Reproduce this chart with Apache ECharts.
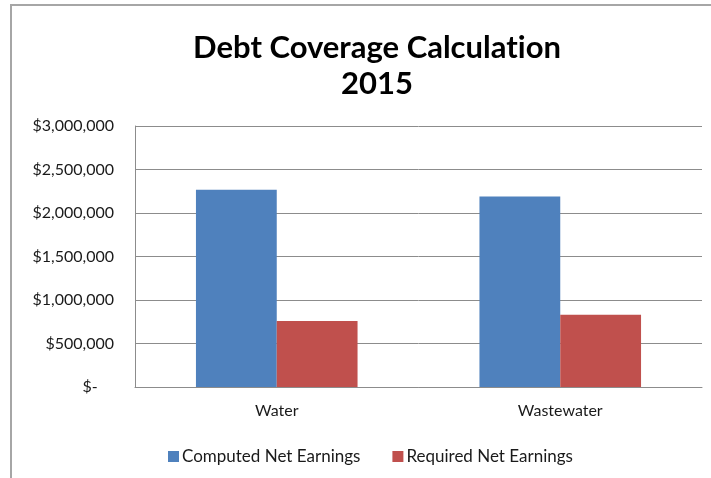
<!DOCTYPE html>
<html>
<head>
<meta charset="utf-8">
<script src="https://cdn.jsdelivr.net/npm/echarts@6/dist/echarts.min.js"></script>
<style>
  html, body { margin: 0; padding: 0; background: #fff; }
  #wrap { position: relative; width: 711px; height: 478px; overflow: hidden; }
  #chart { width: 711px; height: 478px; }
  #frame {
    position: absolute; left: 10px; top: 4px; right: -10px; bottom: -10px;
    border-top: 2px solid #a6a6a6; border-left: 2px solid #a6a6a6;
    pointer-events: none;
  }
</style>
</head>
<body>
<div id="wrap">
  <div id="chart"></div>
  <div id="frame"></div>
</div>
<script>
(function() {
  var categories = ['Water', 'Wastewater'];
  var computedNet = [2267000, 2190000];
  var requiredNet = [760000, 830000];
  var tickLabels = ['$-\u00a0\u00a0\u00a0\u00a0', '$500,000', '$1,000,000', '$1,500,000', '$2,000,000', '$2,500,000', '$3,000,000'];

  var font = 'Lato, "Open Sans", sans-serif';
  var ink = '#1a1a1a';
  var grey = '#8c8c8c';

  var chart = echarts.init(document.getElementById('chart'), null, { renderer: 'canvas' });

  var option = {
    animation: false,
    title: {
      // zero-width non-joiner keeps Lato from drawing a "ti" ligature
      text: 'Debt Coverage Calculat\u200Cion\n2015',
      left: 372,
      textAlign: 'center',
      top: 25,
      textStyle: {
        fontFamily: font,
        fontWeight: 'bold',
        fontSize: 31,
        lineHeight: 36,
        color: '#000'
      }
    },
    legend: {
      data: ['Computed Net Earnings', 'Required Net Earnings'],
      left: 163,
      top: 443,
      icon: 'rect',
      itemWidth: 11,
      itemHeight: 11,
      itemGap: 32,
      textStyle: { fontFamily: font, fontSize: 17, color: ink, padding: [0, 0, 0, -2] }
    },
    grid: { left: 135, right: 9, top: 126, bottom: 91, containLabel: false },
    xAxis: {
      type: 'category',
      data: categories,
      axisLine: { lineStyle: { color: grey, width: 1 } },
      axisTick: { show: false },
      axisLabel: { fontFamily: font, fontSize: 16, color: ink, margin: 16 }
    },
    yAxis: {
      type: 'value',
      min: 0,
      max: 3000000,
      interval: 500000,
      axisLine: { show: true, lineStyle: { color: grey, width: 1 } },
      axisTick: { show: false },
      splitLine: { lineStyle: { color: grey, width: 1 } },
      axisLabel: {
        fontFamily: font,
        fontSize: 16,
        color: ink,
        margin: 21,
        formatter: function(v) { return tickLabels[Math.round(v / 500000)]; }
      }
    },
    series: [
      {
        name: 'Computed Net Earnings',
        type: 'bar',
        data: computedNet,
        barGap: '0%',
        barCategoryGap: '43%',
        itemStyle: { color: '#4f81bd' }
      },
      {
        name: 'Required Net Earnings',
        type: 'bar',
        data: requiredNet,
        itemStyle: { color: '#c0504d' }
      }
    ]
  };

  chart.setOption(option);
  window.addEventListener('resize', function() { chart.resize(); });
})();
</script>
</body>
</html>
